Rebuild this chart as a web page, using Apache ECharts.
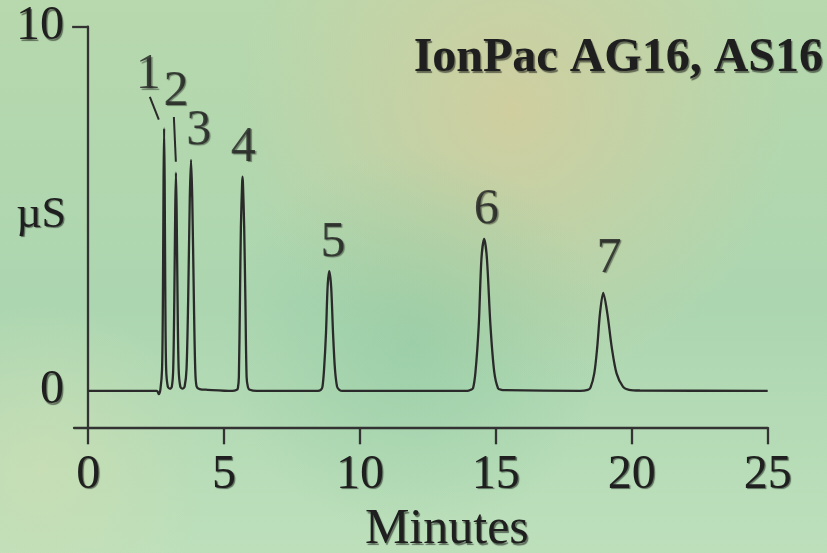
<!DOCTYPE html>
<html>
<head>
<meta charset="utf-8">
<script src="https://cdn.jsdelivr.net/npm/echarts@6/dist/echarts.min.js"></script>
<style>
  html, body { margin: 0; padding: 0; }
  #chart-container { width: 827px; height: 553px; }
</style>
</head>
<body>
<div id="chart-container"></div>
<script>
// detector trace: [minutes, µS]
const trace = [
  [0, 0], [1.5, 0], [2.53, 0], [2.60, -0.09], [2.66, 0.05], [2.72, 0.6], [2.75, 2.5],
  [2.775, 5.8], [2.795, 7.21], [2.815, 5.8], [2.84, 2.5], [2.87, 0.6], [2.93, 0.12], [3.01, 0.06],
  [3.08, 0.12], [3.13, 0.6], [3.17, 2.5], [3.205, 5.0], [3.23, 5.99], [3.255, 5.0], [3.29, 2.5],
  [3.33, 0.6], [3.39, 0.12], [3.47, 0.06],
  [3.55, 0.12], [3.62, 0.6], [3.68, 2.5], [3.74, 5.3], [3.785, 6.34], [3.83, 5.3], [3.89, 2.5],
  [3.94, 0.6], [3.99, 0.12], [4.1, 0.05], [4.4, 0.03],
  [5.30, 0], [5.47, 0.03], [5.51, 0.08], [5.545, 0.38], [5.585, 2.5], [5.62, 4.51], [5.665, 5.7],
  [5.68, 5.88], [5.695, 5.7], [5.74, 4.51], [5.785, 2.5], [5.83, 0.38], [5.88, 0.1], [5.95, 0.03], [6.2, 0],
  [8.45, 0], [8.56, 0.03], [8.62, 0.11], [8.68, 0.6], [8.75, 1.58], [8.81, 2.86], [8.87, 3.29],
  [8.94, 2.86], [9.01, 1.58], [9.08, 0.6], [9.16, 0.11], [9.24, 0.03], [9.35, 0],
  [13.95, 0], [14.08, 0.03], [14.16, 0.07], [14.25, 0.52], [14.37, 1.80], [14.47, 3.64], [14.57, 4.17],
  [14.67, 3.64], [14.80, 1.80], [14.94, 0.52], [15.08, 0.07], [15.2, 0.03], [15.35, 0.02],
  [18.1, 0], [18.38, 0.03], [18.48, 0.09], [18.62, 0.48], [18.73, 1.21], [18.83, 2.13], [18.95, 2.69],
  [19.10, 2.13], [19.26, 1.21], [19.44, 0.48], [19.68, 0.11], [19.9, 0.03], [20.3, 0.01], [25, 0]
];

// peak numbers and where they sit
const peakLabels = [
  [2.216, 8.67, '1'], [3.23, 8.22, '2'], [4.07, 7.15, '3'], [5.71, 6.68, '4'],
  [9.01, 4.07, '5'], [14.65, 4.98, '6'], [19.16, 3.63, '7']
];
const leader1 = [[2.27, 8.07], [2.60, 7.45]];
const leader2 = [[3.154, 7.52], [3.227, 6.29]];

const xTicks = [0, 5, 10, 15, 20, 25];
const yTicks = [10];
const yLabels = [0, 10];

const serif = '"Liberation Serif", "Times New Roman", serif';
const ink = '#1f1f1f';
const shadow = {
  textShadowColor: 'rgba(0,0,0,0.5)',
  textShadowOffsetX: 1.3,
  textShadowOffsetY: 1.3,
  textShadowBlur: 1
};

const myChart = echarts.init(document.getElementById('chart-container'));

const option = {
  animation: false,
  backgroundColor: {
    type: 'linear', x: 0, y: 0, x2: 0, y2: 1,
    colorStops: [
      { offset: 0, color: '#b8d8ad' },
      { offset: 0.55, color: '#acd6b0' },
      { offset: 1, color: '#bde0bb' }
    ]
  },
  graphic: [
    {
      type: 'rect', z: -10, silent: true,
      shape: { x: 0, y: 0, width: 827, height: 553 },
      style: {
        fill: {
          type: 'radial', x: 0.62, y: 0.2, r: 0.5,
          colorStops: [
            { offset: 0, color: 'rgba(214,204,156,0.8)' },
            { offset: 1, color: 'rgba(214,204,156,0)' }
          ]
        }
      }
    },
    {
      type: 'rect', z: -10, silent: true,
      shape: { x: 0, y: 0, width: 827, height: 553 },
      style: {
        fill: {
          type: 'radial', x: 0.5, y: 0.62, r: 0.35,
          colorStops: [
            { offset: 0, color: 'rgba(140,200,160,0.55)' },
            { offset: 1, color: 'rgba(140,200,160,0)' }
          ]
        }
      }
    },
    {
      type: 'rect', z: -10, silent: true,
      shape: { x: 0, y: 0, width: 827, height: 553 },
      style: {
        fill: {
          type: 'radial', x: 0.05, y: 0.85, r: 0.3,
          colorStops: [
            { offset: 0, color: 'rgba(205,222,180,0.7)' },
            { offset: 1, color: 'rgba(205,222,180,0)' }
          ]
        }
      }
    }
  ],
  title: {
    text: 'IonPac AG16, AS16',
    right: 4,
    top: 35,
    padding: 0,
    textStyle: Object.assign({
      fontFamily: serif, fontSize: 48, fontWeight: 'bold', color: ink
    }, shadow)
  },
  grid: { left: 74, right: 59.3, top: 26.7, bottom: 125.7, outerBoundsMode: 'none', containLabel: false },
  xAxis: {
    type: 'value',
    min: -0.52,
    max: 25,
    axisLine: { onZero: false, lineStyle: { color: '#333', width: 2.3 } },
    axisTick: { customValues: xTicks, length: 17, lineStyle: { color: '#333', width: 2.3 } },
    axisLabel: Object.assign({
      customValues: xTicks, margin: 24, fontFamily: serif, fontSize: 48, color: ink
    }, shadow),
    splitLine: { show: false },
    name: 'Minutes',
    nameLocation: 'middle',
    nameGap: 78,
    nameTextStyle: Object.assign({
      fontFamily: serif, fontSize: 50, color: ink, padding: [0, 0, 0, 52]
    }, shadow)
  },
  yAxis: {
    type: 'value',
    min: -1,
    max: 10,
    axisLine: { show: true, onZero: true, lineStyle: { color: '#333', width: 2.3 } },
    axisTick: { show: true, customValues: yTicks, length: 16, lineStyle: { color: '#333', width: 2.3 } },
    axisLabel: Object.assign({
      customValues: yLabels, margin: 10, fontFamily: serif, fontSize: 48, color: ink
    }, shadow),
    splitLine: { show: false },
    name: 'µS',
    nameLocation: 'middle',
    nameRotate: 0,
    nameGap: 8,
    nameMoveOverlap: false,
    nameTextStyle: Object.assign({
      fontFamily: serif, fontSize: 44, color: ink, verticalAlign: 'bottom', lineHeight: 24
    }, shadow)
  },
  series: [
    {
      type: 'line',
      data: trace,
      showSymbol: false,
      smooth: 0.3,
      lineStyle: { color: '#2a2a2a', width: 2.3 }
    },
    {
      type: 'line', data: leader1, showSymbol: false,
      lineStyle: { color: '#2a2a2a', width: 2 }
    },
    {
      type: 'line', data: leader2, showSymbol: false,
      lineStyle: { color: '#2a2a2a', width: 2 }
    },
    {
      type: 'scatter',
      data: peakLabels,
      symbolSize: 1,
      itemStyle: { color: 'transparent' },
      label: Object.assign({
        show: true,
        position: 'inside',
        formatter: (p) => p.data[2],
        fontFamily: serif,
        fontSize: 50,
        color: ink
      }, shadow)
    }
  ]
};

myChart.setOption(option);
</script>
</body>
</html>
